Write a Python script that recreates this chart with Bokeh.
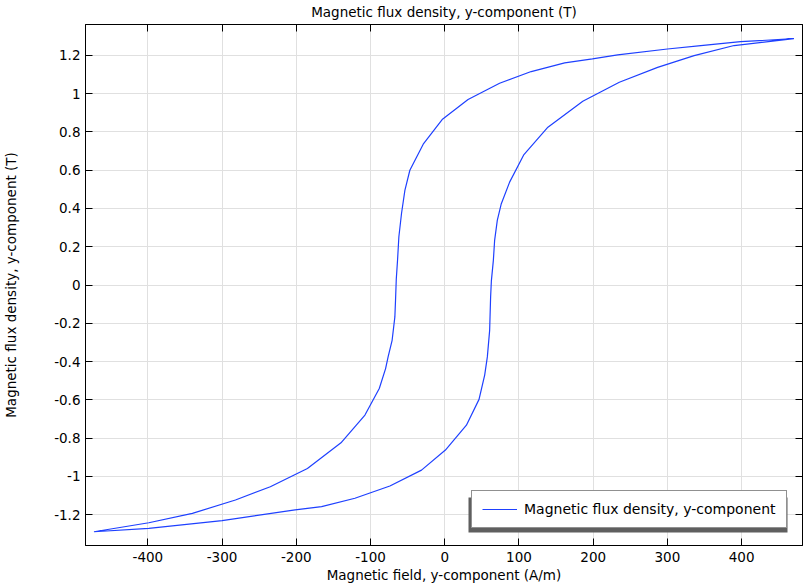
from bokeh.plotting import figure
from bokeh.models import Range1d, LinearAxis, FixedTicker, Legend, LegendItem, BoxAnnotation
from bokeh.embed import file_html
from bokeh.resources import INLINE

# Descending branch (from +Hmax to -Hmax)
H_desc = [470.4, 398.7, 345.0, 300.0, 233.0, 199.0, 161.6, 116.5, 73.9, 31.4, -3.5,
          -29.0, -47.0, -53.7, -58.2, -61.8, -63.6, -65.3, -66.3, -67.2, -70.9,
          -76.3, -79.7, -88.2, -107.5, -139.8, -185.0, -235.0, -282.0, -340.0,
          -398.7, -472.6]
B_desc = [1.288, 1.272, 1.252, 1.234, 1.203, 1.182, 1.161, 1.116, 1.055, 0.970, 0.865,
          0.736, 0.600, 0.495, 0.375, 0.252, 0.129, 0.030, -0.080, -0.167, -0.289,
          -0.376, -0.437, -0.541, -0.680, -0.825, -0.959, -1.055, -1.124, -1.194,
          -1.243, -1.290]

# Ascending branch (from -Hmax to +Hmax)
H_asc = [-472.6, -398.7, -300.0, -201.6, -165.9, -121.0, -73.9, -31.3, 0.9, 29.2,
         46.2, 53.8, 57.4, 60.5, 61.8, 62.8, 65.5, 67.2, 70.8, 76.2, 87.4, 106.7,
         139.0, 186.0, 235.2, 286.8, 336.0, 389.8, 470.4]
B_asc = [-1.290, -1.272, -1.232, -1.176, -1.159, -1.115, -1.051, -0.968, -0.863, -0.733,
         -0.598, -0.471, -0.376, -0.237, -0.063, 0.020, 0.129, 0.233, 0.338, 0.425,
         0.538, 0.682, 0.825, 0.961, 1.060, 1.138, 1.199, 1.252, 1.288]

x_ticks = [-400, -300, -200, -100, 0, 100, 200, 300, 400]
x_tick_labels = ["-400", "-300", "-200", "-100", "0", "100", "200", "300", "400"]
y_ticks = [-1.2, -1.0, -0.8, -0.6, -0.4, -0.2, 0.0, 0.2, 0.4, 0.6, 0.8, 1.0, 1.2]
y_tick_labels = ["-1.2", "-1", "-0.8", "-0.6", "-0.4", "-0.2", "0", "0.2", "0.4",
                 "0.6", "0.8", "1", "1.2"]

title_text = "Magnetic flux density, y-component (T)"
x_label = "Magnetic field, y-component (A/m)"
y_label = "Magnetic flux density, y-component (T)"
legend_label = "Magnetic flux density, y-component"

FONT = "DejaVu Sans"
FS = "13.5px"
LINE_COLOR = "#1e40ff"

p = figure(width=803, height=585, output_backend="svg", toolbar_location=None,
           x_range=Range1d(-484, 482), y_range=Range1d(-1.362, 1.362),
           min_border_left=83, min_border_right=1, min_border_top=24,
           min_border_bottom=39, x_axis_location=None, y_axis_location=None)

def style_axis(ax, ticks, labels, show_labels=True, label=None):
    ax.ticker = FixedTicker(ticks=ticks)
    ax.major_tick_in = 7
    ax.major_tick_out = 0
    ax.minor_tick_line_color = None
    ax.axis_line_color = "black"
    ax.major_tick_line_color = "black"
    ax.major_label_text_font = FONT
    if show_labels:
        ax.major_label_overrides = {t: l for t, l in zip(ticks, labels)}
        ax.major_label_text_font_size = FS
        ax.major_label_text_color = "black"
        ax.major_label_standoff = 5
    else:
        ax.major_label_text_font_size = "1px"
        ax.major_label_text_color = None
        ax.major_label_standoff = 0
    if label:
        ax.axis_label = label
        ax.axis_label_text_font = FONT
        ax.axis_label_text_font_size = FS
        ax.axis_label_text_font_style = "normal"
        ax.axis_label_text_color = "black"

xb = LinearAxis()
style_axis(xb, x_ticks, x_tick_labels, True, x_label)
xb.major_label_standoff = 6
xb.axis_label_standoff = 2
p.add_layout(xb, "below")
yl = LinearAxis()
style_axis(yl, y_ticks, y_tick_labels, True, y_label)
yl.axis_label_standoff = 32
p.add_layout(yl, "left")
# top axis: inner ticks only, carries the chart title as its label
xt = LinearAxis()
style_axis(xt, x_ticks, x_tick_labels, False, title_text)
xt.axis_label_standoff = 5
p.add_layout(xt, "above")
yr = LinearAxis()
style_axis(yr, y_ticks, y_tick_labels, False)
p.add_layout(yr, "right")

p.xgrid.ticker = FixedTicker(ticks=x_ticks)
p.ygrid.ticker = FixedTicker(ticks=y_ticks)
p.grid.grid_line_color = "#e0e0e0"
p.grid.grid_line_width = 1
p.outline_line_color = "black"
p.background_fill_color = "white"

H_loop = H_desc + H_asc[1:]
B_loop = B_desc + B_asc[1:]
r = p.line(H_loop, B_loop, line_color=LINE_COLOR, line_width=1.2)

LX, LY, LW, LH = 386, 17, 316, 34
shadow = BoxAnnotation(left=LX - 3, right=LX + LW, bottom=LY - 4, top=LY + LH - 3,
                       left_units="screen", right_units="screen",
                       bottom_units="screen", top_units="screen",
                       fill_color="#5f5f5f", fill_alpha=1.0, line_color=None)
p.add_layout(shadow)

legend = Legend(items=[LegendItem(label=legend_label, renderers=[r])],
                location=(LX, LY), padding=10, margin=0,
                glyph_width=35, glyph_height=14, label_height=14,
                label_standoff=7, spacing=0,
                label_text_font=FONT, label_text_font_size="14px",
                label_text_color="black",
                border_line_color="#222222", border_line_width=1.5,
                background_fill_color="white", background_fill_alpha=1.0)
p.add_layout(legend)

open("out.html", "w").write(file_html(p, INLINE))
